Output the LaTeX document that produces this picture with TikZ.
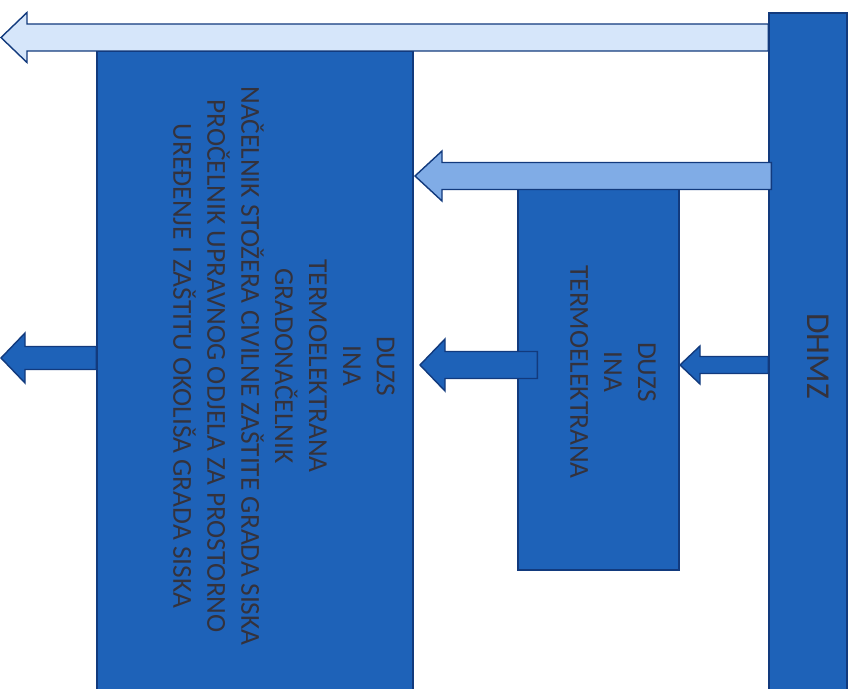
\documentclass[tikz,border=0pt]{standalone}
\usepackage{fontspec}
\setmainfont{Carlito}
\usetikzlibrary{calc,positioning,fit}

\definecolor{plava}{RGB}{30,98,184}
\definecolor{tamnoplava}{RGB}{18,58,125}
\definecolor{svijetla}{RGB}{214,230,250}
\definecolor{srednja}{RGB}{128,172,230}
\definecolor{tekst}{RGB}{52,50,60}

\tikzset{
  blok/.style={draw=tamnoplava, fill=plava, line width=0.8pt, inner sep=0pt},
  natpis/.style={rotate=-90, align=center, text=tekst,
    font=\fontsize{15.6}{19.3}\selectfont},
  strel/.style={draw=tamnoplava, line width=0.8pt, line join=miter}
}

% block arrow: style, start, tip, half body, half head, head length
\newcommand{\blokstrel}[6]{%
  \draw[strel,#1] ($(#2)+(0,-#4)$) -- ($(#3)+(#6,-#4)$) -- ($(#3)+(#6,-#5)$)
    -- (#3) -- ($(#3)+(#6,#5)$) -- ($(#3)+(#6,#4)$) -- ($(#2)+(0,#4)$) -- cycle;}

\begin{document}
\begin{tikzpicture}[x=0.02cm,y=-0.02cm]
\useasboundingbox (0,0) rectangle (856,689);
\clip (0,0) rectangle (856,689);

% boxes
\node[blok, fit={(97,51) (413,700)}] (stozer) {};
\node[blok, fit={(518,188) (679,570)}] (duzs) {};
\node[blok, fit={(769,13) (847,700)}] (dhmz) {};

% texts
\node[natpis] (stozertekst) at (284,366) {DUZS\\INA\\TERMOELEKTRANA\\GRADONAČELNIK\\
  NAČELNIK STOŽERA CIVILNE ZAŠTITE GRADA SISKA\\
  PROČELNIK UPRAVNOG ODJELA ZA PROSTORNO\\
  UREĐENJE I ZAŠTITU OKOLIŠA GRADA SISKA};
\node[natpis] (duzstekst) at (613,372) {DUZS\\INA\\TERMOELEKTRANA};
\node[natpis, font=\fontsize{19}{23}\selectfont] (dhmztekst) at (818,356) {DHMZ};

% arrow ends
\coordinate (vrh1) at (1,37.5);
\coordinate (vrh2) at (415,176);
\coordinate (vrh3) at (1,358);
\coordinate (vrh4) at (420,365);
\coordinate (vrh5) at (680,365);
\coordinate (pocetak1) at (dhmz.west |- vrh1);
\coordinate (pocetak2) at ($(dhmz.west |- vrh2)+(3,0)$);
\coordinate (pocetak3) at (stozer.west |- vrh3);
\coordinate (pocetak4) at ($(duzs.west |- vrh4)+(20,0)$);
\coordinate (pocetak5) at (dhmz.west |- vrh5);

% arrows
\blokstrel{fill=svijetla}{pocetak1}{vrh1}{13.5}{25}{26}
\blokstrel{fill=srednja}{pocetak2}{vrh2}{13.5}{25}{27}
\blokstrel{fill=plava}{pocetak3}{vrh3}{11.5}{25}{24}
\blokstrel{fill=plava}{pocetak4}{vrh4}{13.5}{26}{25}
\blokstrel{fill=plava}{pocetak5}{vrh5}{8.5}{19}{20}
\end{tikzpicture}
\end{document}
